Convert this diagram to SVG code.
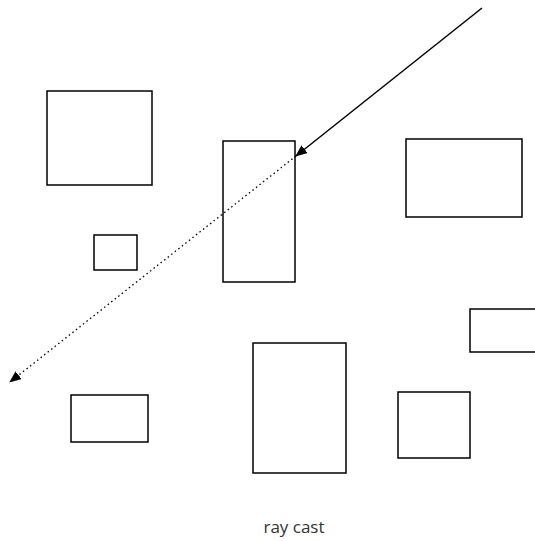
<svg xmlns="http://www.w3.org/2000/svg" width="535" height="541" viewBox="0 0 535 541">
<style>
.box{fill:#fff;stroke:#000;stroke-width:1.5}
.lbl{font-family:"Open Sans","Liberation Sans",sans-serif;font-size:17px;fill:#333}
</style>
<defs>
<marker id="ah" viewBox="0 0 12 10" refX="11" refY="5" markerWidth="12" markerHeight="10" markerUnits="userSpaceOnUse" orient="auto">
<path d="M0,0 L12,5 L0,10 z" fill="#000"/>
</marker>
</defs>
<rect width="535" height="541" fill="#fff"/>
<g id="r1"><rect class="box" x="47" y="91" width="105" height="94"/></g>
<g id="r2"><rect class="box" x="94" y="235" width="43" height="35"/></g>
<g id="r3"><rect class="box" x="223" y="141" width="72" height="141"/></g>
<g id="r4"><rect class="box" x="406" y="139" width="116" height="78"/></g>
<g id="r5"><rect class="box" x="470" y="309" width="70" height="43"/></g>
<g id="r6"><rect class="box" x="71" y="395" width="77" height="47"/></g>
<g id="r7"><rect class="box" x="253" y="343" width="93" height="130"/></g>
<g id="r8"><rect class="box" x="398" y="392" width="72" height="66"/></g>
<g id="connectors">
<line x1="482" y1="8" x2="296" y2="156" stroke="#000" stroke-width="1.5" marker-end="url(#ah)"/>
<line x1="296" y1="156" x2="10" y2="382" stroke="#000" stroke-width="1.3" stroke-dasharray="1.5,3" marker-end="url(#ah)"/>
</g>
<text class="lbl" x="294" y="533" text-anchor="middle">ray cast</text>
</svg>
